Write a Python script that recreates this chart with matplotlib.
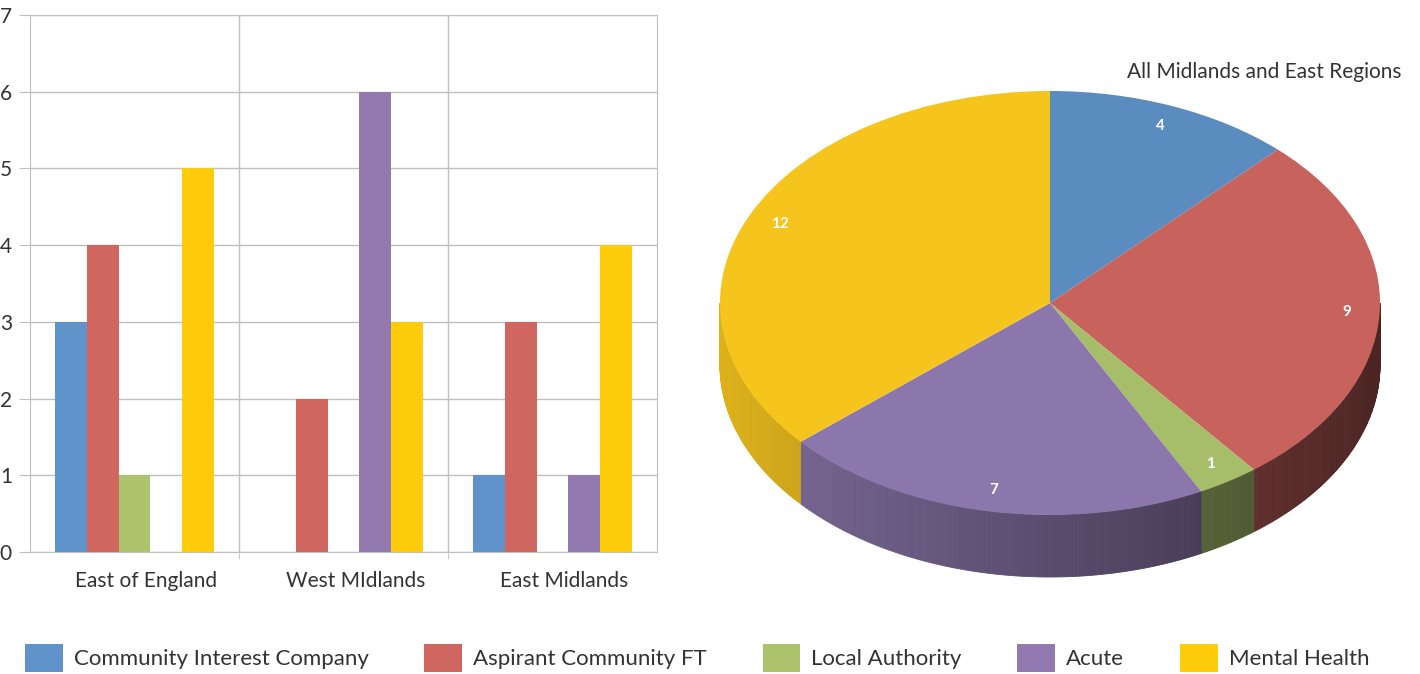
import numpy as np
import matplotlib
matplotlib.use('Agg')
import matplotlib.pyplot as plt
import matplotlib.transforms as mtransforms
from matplotlib.patches import Polygon, Patch
from matplotlib.colors import to_rgb

plt.rcParams['font.family'] = ['Lato', 'DejaVu Sans']

# data
regions = ['East of England', 'West MIdlands', 'East Midlands']
types = ['Community Interest Company', 'Aspirant Community FT', 'Local Authority', 'Acute', 'Mental Health']
counts = {
    'Community Interest Company': [3, 0, 1],
    'Aspirant Community FT': [4, 2, 3],
    'Local Authority': [1, 0, 0],
    'Acute': [0, 6, 1],
    'Mental Health': [5, 3, 4],
}
pie_values = [4, 9, 1, 7, 12]
pie_title = 'All Midlands and East Regions'

bar_colors = ['#5F93C9', '#CF6660', '#ADC46C', '#9279B0', '#FECC0A']
pie_colors = ['#5B8CC0', '#C7625D', '#A6BD6A', '#8B77AB', '#F5C51E']
grid_col = '#BFBFBF'
text_col = '#333333'

W, H = 1420, 674
fig = plt.figure(figsize=(W / 100, H / 100), dpi=100)

# ---- bar chart ----
ax = fig.add_axes([30 / W, 1 - 552 / H, 627 / W, 537 / H])
x = np.arange(len(regions))
bw = 0.153
for i, t in enumerate(types):
    ax.bar(x + (i - 2) * bw, counts[t], bw, color=bar_colors[i], zorder=3)
ax.set_xlim(-0.5, 2.5)
ax.set_ylim(0, 7)
ax.set_yticks(range(8))
ax.set_xticks(x)
ax.set_xticklabels(regions, fontsize=15, color=text_col)
ax.set_xticks([0.5, 1.5], minor=True)
ax.tick_params(axis='x', which='major', length=0, pad=14)
ax.tick_params(axis='x', which='minor', length=5, color=grid_col)
ax.tick_params(axis='y', length=8, color=grid_col, labelsize=15, labelcolor=text_col, pad=5)
ax.grid(axis='y', color=grid_col, lw=1, zorder=0)
ax.grid(axis='x', which='minor', color=grid_col, lw=1, zorder=0)
for s in ax.spines.values():
    s.set_color(grid_col)
# category labels sit a little right of the group centre in the original
shift = mtransforms.ScaledTranslation(12 / 100, 0, fig.dpi_scale_trans)
for lab in ax.get_xticklabels():
    lab.set_transform(lab.get_transform() + shift)

# ---- 3D-looking pie ----
cx, cy, rx, ry = 1050, 303, 330, 212
px0, px1, py0, py1 = 700, 1420, 40, 620
pax = fig.add_axes([px0 / W, 1 - py1 / H, (px1 - px0) / W, (py1 - py0) / H])
wedges, texts = pax.pie(pie_values, colors=pie_colors, startangle=90, counterclock=False,
                        labels=[str(v) for v in pie_values], labeldistance=0.9,
                        textprops=dict(color='white', fontsize=11, fontweight='bold'),
                        wedgeprops=dict(linewidth=0))
for w in wedges:
    w.set_zorder(5)
for t in texts:
    t.set_horizontalalignment('center')
    t.set_verticalalignment('center')
    t.set_zorder(6)

# side of the pie, from the wedge angles
depth = 62 / ry
total = sum(pie_values)
start = 90.0
for v, c in zip(pie_values, pie_colors):
    end = start - v / total * 360.0
    a0, a1 = end % 360, (end % 360) + v / total * 360.0
    base = np.array(to_rgb(c))
    for lo, hi in [(a0, a1), (a0 - 360, a1 - 360)]:
        s0, s1 = max(lo, 180.0), min(hi, 360.0)
        if s1 <= s0:
            continue
        th = np.radians(np.linspace(s0, s1, max(int((s1 - s0) * 2), 2)))
        for k in range(len(th) - 1):
            t0, t1 = th[k], th[k + 1]
            f = 0.64 - 0.26 * np.cos((t0 + t1) / 2)
            poly = [(np.cos(t0), np.sin(t0)), (np.cos(t1), np.sin(t1)),
                    (np.cos(t1), np.sin(t1) - depth), (np.cos(t0), np.sin(t0) - depth)]
            pax.add_patch(Polygon(poly, closed=True, facecolor=base * f,
                                  edgecolor=base * f, lw=0.6, zorder=2))
    start = end

pax.set_aspect('auto')
pax.set_xlim((px0 - cx) / rx, (px1 - cx) / rx)
pax.set_ylim((cy - py1) / ry, (cy - py0) / ry)
pax.axis('off')

fig.text(1264 / W, 1 - 72 / H, pie_title, ha='center', va='center', fontsize=15, color=text_col)

# ---- legend ----
handles = [Patch(facecolor=c, edgecolor='none') for c in bar_colors]
fig.legend(handles, types, loc='center left', bbox_to_anchor=(25 / W, 1 - 658 / H),
           ncol=5, frameon=False, fontsize=16, handlelength=1.7, handleheight=1.5,
           handletextpad=0.5, columnspacing=2.5, borderpad=0, borderaxespad=0,
           labelcolor=text_col)

fig.savefig('out.png', dpi=100)
